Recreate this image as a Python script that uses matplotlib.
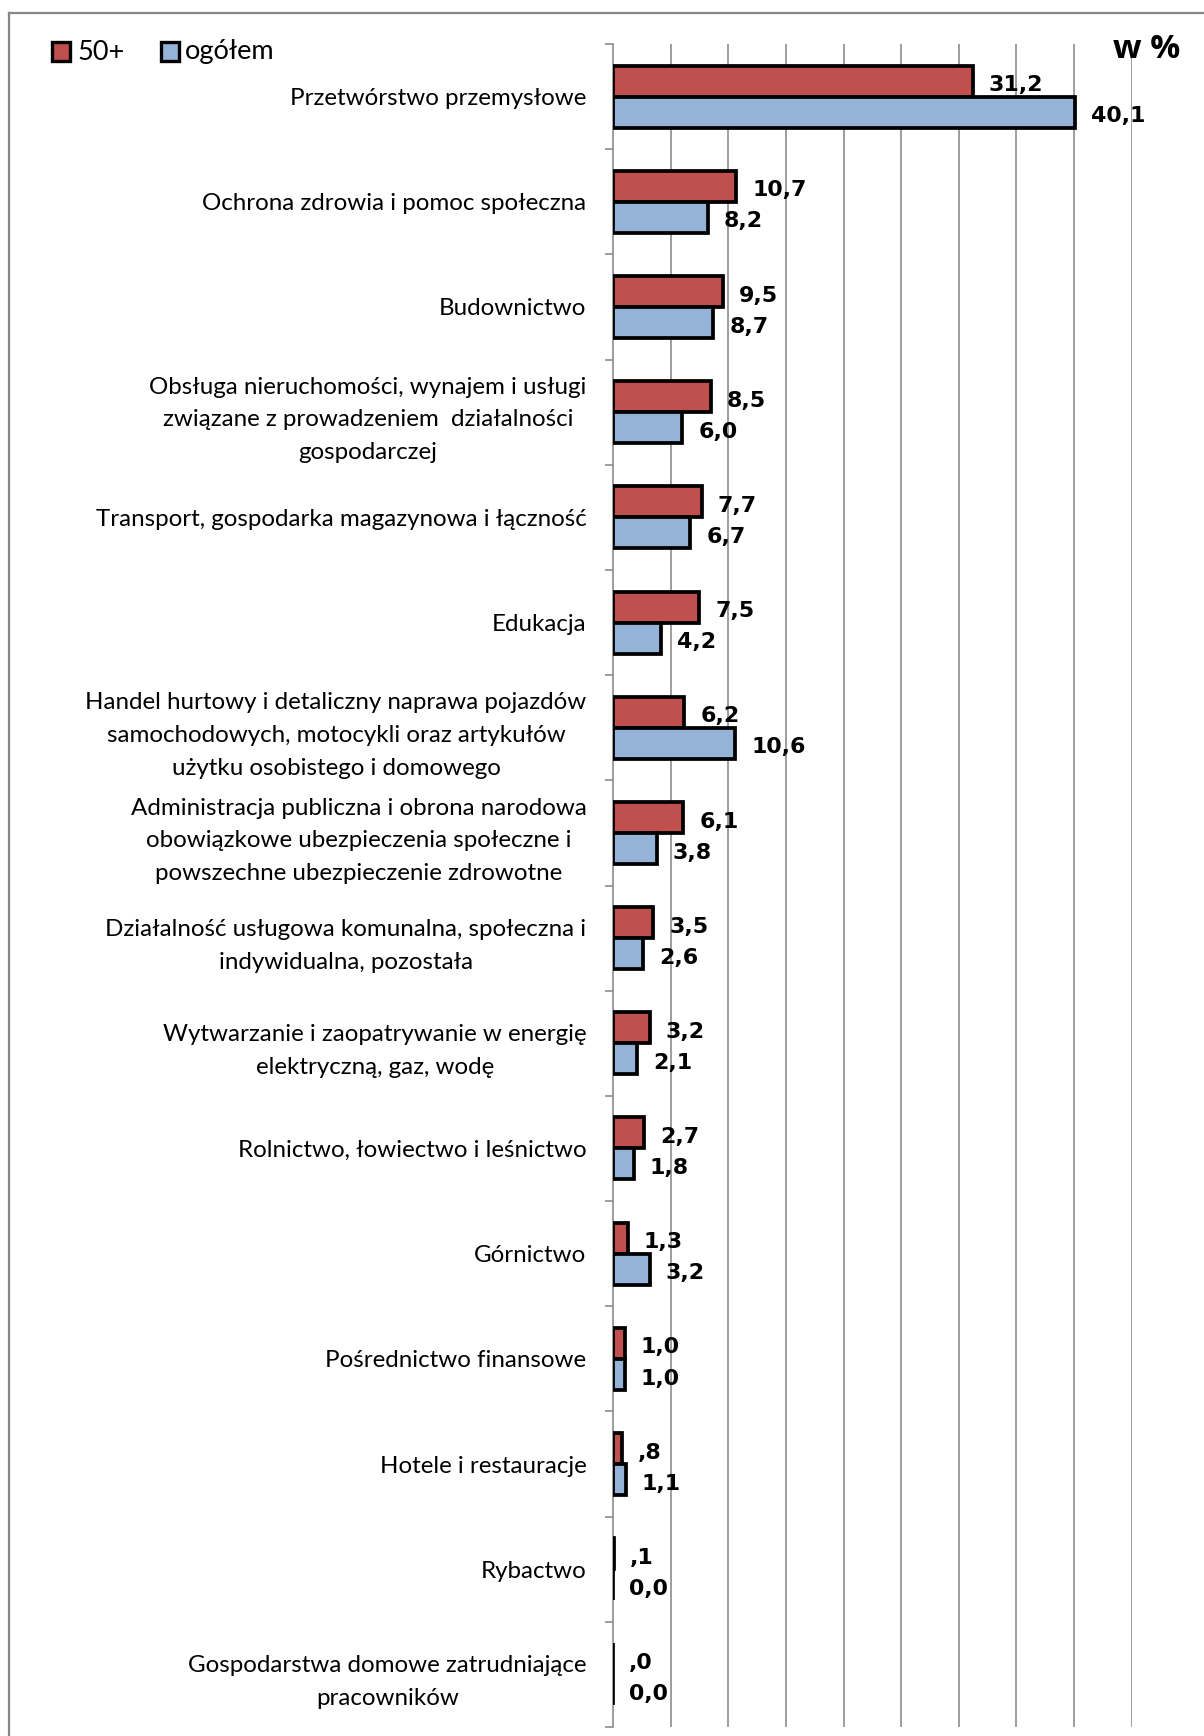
import matplotlib
matplotlib.use("Agg")
import matplotlib.pyplot as plt
from matplotlib.lines import Line2D
from matplotlib.patches import Rectangle
import numpy as np

plt.rcParams["font.family"] = ["Lato", "DejaVu Sans"]

categories = [
    "Przetwórstwo przemysłowe",
    "Ochrona zdrowia i pomoc społeczna",
    "Budownictwo",
    "Obsługa nieruchomości, wynajem i usługi\nzwiązane z prowadzeniem  działalności\ngospodarczej",
    "Transport, gospodarka magazynowa i łączność",
    "Edukacja",
    "Handel hurtowy i detaliczny naprawa pojazdów\nsamochodowych, motocykli oraz artykułów\nużytku osobistego i domowego",
    "Administracja publiczna i obrona narodowa\nobowiązkowe ubezpieczenia społeczne i\npowszechne ubezpieczenie zdrowotne",
    "Działalność usługowa komunalna, społeczna i\nindywidualna, pozostała",
    "Wytwarzanie i zaopatrywanie w energię\nelektryczną, gaz, wodę",
    "Rolnictwo, łowiectwo i leśnictwo",
    "Górnictwo",
    "Pośrednictwo finansowe",
    "Hotele i restauracje",
    "Rybactwo",
    "Gospodarstwa domowe zatrudniające\npracowników",
]
share_50plus = [31.2, 10.7, 9.5, 8.5, 7.7, 7.5, 6.2, 6.1, 3.5, 3.2, 2.7, 1.3, 1.0, 0.8, 0.1, 0.0]
share_total = [40.1, 8.2, 8.7, 6.0, 6.7, 4.2, 10.6, 3.8, 2.6, 2.1, 1.8, 3.2, 1.0, 1.1, 0.0, 0.0]
series_labels = ["50+", "ogółem"]

RED = "#C0504D"
BLUE = "#95B3D7"
GRID = "#8C8C8C"
W, H = 1204, 1736


def fmt_50plus(v):
    # this series drops the leading zero (",8", ",0")
    s = f"{v:.1f}".replace(".", ",")
    return s[1:] if s.startswith("0") else s


def fmt_total(v):
    return f"{v:.1f}".replace(".", ",")


fig = plt.figure(figsize=(W / 100, H / 100), dpi=100)
fig.patch.set_facecolor("white")
ax = fig.add_axes([613 / W, 9 / H, (1131.7 - 613) / W, (1727 - 44) / H])

y = np.arange(len(categories))
h = 0.295
ax.barh(y - h / 2, share_50plus, height=h, color=RED, edgecolor="black", linewidth=2.7, zorder=3)
ax.barh(y + h / 2, share_total, height=h, color=BLUE, edgecolor="black", linewidth=2.7, zorder=3)

for vals, fmt, dy in ((share_50plus, fmt_50plus, -h / 2), (share_total, fmt_total, h / 2)):
    for yi, v in zip(y, vals):
        ax.annotate(fmt(v), (v, yi + dy), xytext=(11.5, -3), textcoords="offset points",
                    va="center", ha="left", fontsize=15.9, fontweight="bold",
                    family="DejaVu Sans", zorder=4)

ax.set_xlim(0, 45)
ax.set_ylim(len(categories) - 0.5, -0.5)
ax.set_xticks(np.arange(5, 46, 5))
ax.xaxis.grid(True, color=GRID, linewidth=1.2, zorder=0)
ax.tick_params(axis="x", length=0, labelbottom=False)

ax.set_yticks(y)
ax.set_yticklabels(categories, fontsize=17.4, linespacing=1.68)
for t in ax.get_yticklabels():
    t.set_multialignment("center")
ax.tick_params(axis="y", which="major", length=0, pad=19)
ax.set_yticks(np.arange(-0.5, len(categories), 1.0), minor=True)
ax.tick_params(axis="y", which="minor", length=6, width=1.2, color=GRID, direction="out")

for side in ("top", "right", "bottom"):
    ax.spines[side].set_visible(False)
ax.spines["left"].set_color(GRID)
ax.spines["left"].set_linewidth(1.2)
ax.set_axisbelow(True)

fig.text(1147 / W, 1 - 58 / H, "w %", ha="center", va="baseline",
         fontsize=24, fontweight="bold", family=["Open Sans", "DejaVu Sans"])

# legend: two framed squares with their labels
legend_x = [(52, 77), (161, 185)]
for (sx, tx), color, label in zip(legend_x, (RED, BLUE), series_labels):
    fig.add_artist(Rectangle((sx / W, 1 - 61 / H), 18 / W, 19 / H, transform=fig.transFigure,
                             facecolor=color, edgecolor="black", linewidth=2.4))
    fig.text(tx / W, 1 - 52 / H, label, ha="left", va="center", fontsize=19.5)

# outer chart frame (top and left edges)
fig.add_artist(Line2D([9 / W, 9 / W], [0, 1 - 13 / H], transform=fig.transFigure,
                      color="#868686", linewidth=1.6))
fig.add_artist(Line2D([9 / W, 1], [1 - 13 / H, 1 - 13 / H], transform=fig.transFigure,
                      color="#868686", linewidth=1.6))

fig.savefig("out.png", dpi=100, facecolor="white")
